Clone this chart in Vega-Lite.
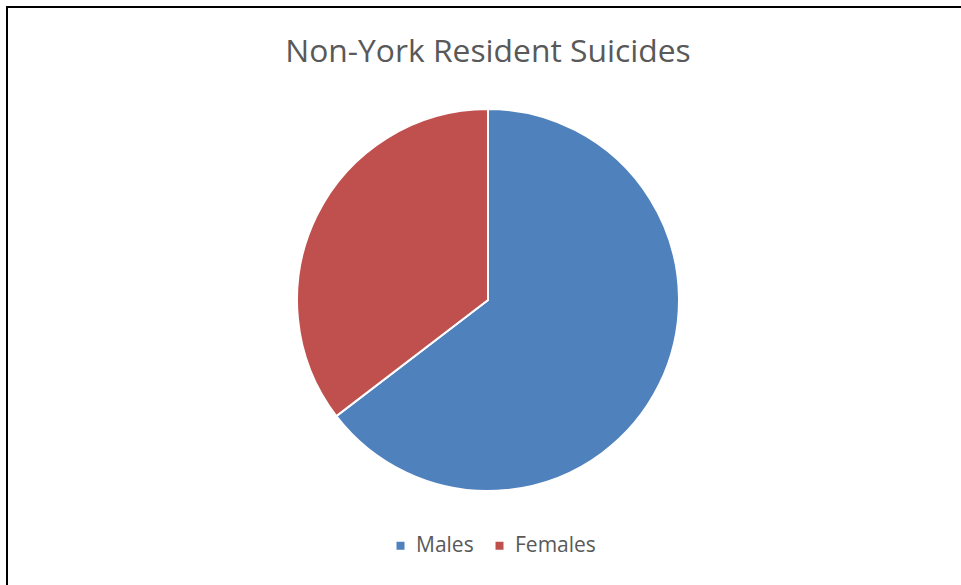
{
  "$schema": "https://vega.github.io/schema/vega-lite/v6.json",
  "width": 962,
  "height": 586,
  "autosize": {"type": "none"},
  "padding": {"left": 7, "top": 7, "right": 0, "bottom": 0},
  "background": "white",
  "title": {
    "text": "Non-York Resident Suicides",
    "offset": -63,
    "font": "Open Sans",
    "fontSize": 31.8,
    "fontWeight": "normal",
    "color": "#595959",
    "anchor": "middle",
    "frame": "group"
  },
  "data": {
    "values": [
      {"sex": "Males", "count": 64.6},
      {"sex": "Females", "count": 35.4}
    ]
  },
  "layer": [
    {
      "data": {"values": [{"frame": "chart"}]},
      "mark": {"type": "rect", "fill": null, "stroke": "#000000", "strokeWidth": 2},
      "encoding": {}
    },
    {
      "mark": {"type": "arc", "outerRadius": 191, "stroke": "white", "strokeWidth": 2},
      "encoding": {
        "theta": {"field": "count", "type": "quantitative", "stack": true},
        "order": {"field": "sex", "sort": "descending"},
        "color": {
          "field": "sex",
          "type": "nominal",
          "scale": {"domain": ["Males", "Females"], "range": ["#4F81BD", "#C0504D"]},
          "legend": {
            "title": null,
            "orient": "none",
            "direction": "horizontal",
            "legendX": 383,
            "legendY": 528,
            "symbolType": "square",
            "symbolSize": 64,
            "symbolStrokeWidth": 0,
            "labelFont": "Open Sans",
            "labelFontSize": 21,
            "labelColor": "#595959",
            "labelOffset": 5,
            "columnPadding": 15
          }
        }
      }
    }
  ]
}
